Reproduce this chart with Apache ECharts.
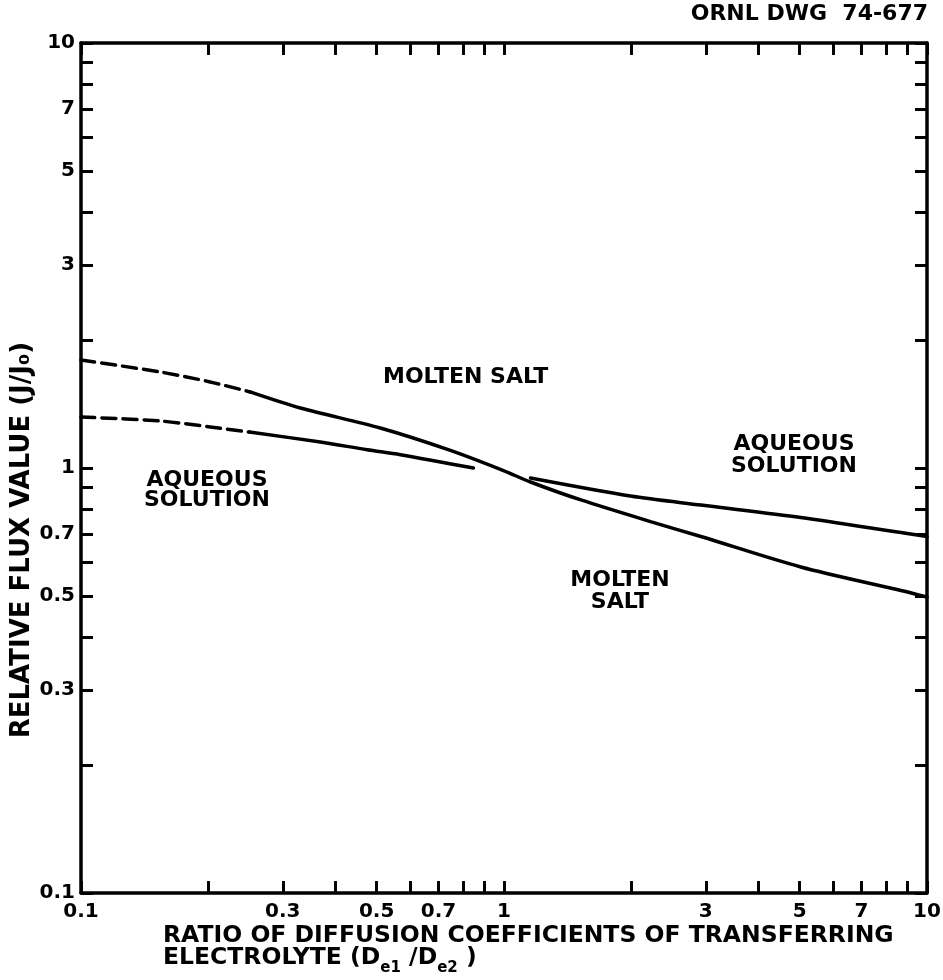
<!DOCTYPE html>
<html>
<head>
<meta charset="utf-8">
<title>ORNL DWG 74-677</title>
<script src="https://cdn.jsdelivr.net/npm/echarts@6/dist/echarts.min.js"></script>
<style>
  html, body { margin: 0; padding: 0; background: #fff; }
  #chart { width: 943px; height: 980px; }
</style>
</head>
<body>
<div id="chart"></div>
<script>
// values (ratio De1/De2 -> J/J0)
const moltenDashX = [0.1, 0.154, 0.202, 0.251];
const moltenDashY = [1.795, 1.682, 1.594, 1.51];
const moltenX = [0.251, 0.33, 0.51, 0.747, 1.0, 1.155, 1.52, 2.22, 2.92, 5.03, 8.68, 10];
const moltenY = [1.51, 1.384, 1.242, 1.10, 0.985, 0.927, 0.841, 0.748, 0.69, 0.585, 0.515, 0.497];
const aqLeftDashX = [0.1, 0.154, 0.202, 0.25];
const aqLeftDashY = [1.318, 1.29, 1.249, 1.215];
const aqLeftX = [0.25, 0.368, 0.475, 0.569, 0.847];
const aqLeftY = [1.215, 1.151, 1.104, 1.075, 1.0];
const aqRightX = [1.155, 1.99, 2.92, 5.03, 8.68, 10];
const aqRightY = [0.947, 0.859, 0.818, 0.765, 0.705, 0.69];

const tickValues = [0.1, 0.2, 0.3, 0.4, 0.5, 0.6, 0.7, 0.8, 0.9, 1, 2, 3, 4, 5, 6, 7, 8, 9, 10];
const xTickLabels = [0.1, 0.3, 0.5, 0.7, 1, 3, 5, 7, 10];
const yTickLabels = [0.1, 0.3, 0.5, 0.7, 1, 3, 5, 7, 10];

const FONT = 'DejaVu Sans';
const lg = v => Math.log10(v);
const pairs = (xs, ys) => xs.map((x, i) => [lg(x), lg(ys[i])]);
const fmt = v => {
  const n = Math.pow(10, v);
  return n < 0.95 ? n.toFixed(1) : String(Math.round(n));
};

function makeAxis(position, showLabel, labels, margin) {
  return {
    type: 'value',
    position: position,
    min: -1,
    max: 1,
    splitLine: { show: false },
    axisLine: { show: true, onZero: false, lineStyle: { color: '#000', width: 3.5 } },
    axisTick: {
      show: true,
      inside: true,
      length: 12,
      customValues: tickValues.map(lg),
      lineStyle: { color: '#000', width: 3 }
    },
    axisLabel: {
      show: showLabel,
      customValues: labels.map(lg),
      formatter: fmt,
      margin: margin,
      color: '#000',
      fontFamily: FONT,
      fontWeight: 'bold',
      fontSize: 20
    }
  };
}

function lineSeries(data, dashed) {
  return {
    type: 'line',
    data: data,
    smooth: 0.3,
    showSymbol: false,
    silent: true,
    lineStyle: { color: '#000', width: 3.5, type: dashed ? [14, 7] : 'solid', cap: 'round' }
  };
}

function txt(x, y, text, size, opts) {
  return {
    type: 'text', x: x, y: y,
    style: Object.assign({
      text: text,
      font: 'bold ' + size + 'px "' + FONT + '"',
      fill: '#000',
      align: 'left',
      verticalAlign: 'middle'
    }, opts || {})
  };
}

// second line of the x title, with subscripts placed after measuring the text
const measure = document.createElement('canvas').getContext('2d');
function widthOf(text, size) {
  measure.font = 'bold ' + size + 'px "' + FONT + '"';
  return measure.measureText(text).width;
}
const titleSize = 23.5;
const subSize = 15;
const line2Parts = [['ELECTROLYTE (D', false], ['e1', true], [' /D', false], ['e2', true], [' )', false]];
const line2 = [];
let cx = 163;
line2Parts.forEach(p => {
  const size = p[1] ? subSize : titleSize;
  line2.push(txt(cx, p[1] ? 968 : 958, p[0], size));
  cx += widthOf(p[0], size);
});

const chart = echarts.init(document.getElementById('chart'));
chart.setOption({
  animation: false,
  backgroundColor: '#fff',
  grid: { left: 81, right: 16, top: 43, bottom: 87, outerBoundsMode: 'none' },
  xAxis: [
    makeAxis('bottom', true, xTickLabels, 9),
    makeAxis('top', false, xTickLabels, 8)
  ],
  yAxis: [
    makeAxis('left', true, yTickLabels, 6),
    makeAxis('right', false, yTickLabels, 6)
  ],
  series: [
    lineSeries(pairs(moltenDashX, moltenDashY), true),
    lineSeries(pairs(moltenX, moltenY), false),
    lineSeries(pairs(aqLeftDashX, aqLeftDashY), true),
    lineSeries(pairs(aqLeftX, aqLeftY), false),
    lineSeries(pairs(aqRightX, aqRightY), false)
  ],
  graphic: [
    txt(928, 14, 'ORNL DWG  74-677', 22, { align: 'right' }),
    txt(383, 377, 'MOLTEN SALT', 22),
    txt(207, 490, 'AQUEOUS\nSOLUTION', 22, { lineHeight: 20, align: 'center' }),
    txt(794, 455, 'AQUEOUS\nSOLUTION', 22, { lineHeight: 22, align: 'center' }),
    txt(620, 591, 'MOLTEN\nSALT', 22, { lineHeight: 22, align: 'center' }),
    txt(163, 936, 'RATIO OF DIFFUSION COEFFICIENTS OF TRANSFERRING', titleSize),
    ...line2,
    {
      type: 'text', x: 22, y: 540, rotation: Math.PI / 2,
      style: { text: 'RELATIVE FLUX VALUE (J/J\u2080)', font: 'bold 26px "' + FONT + '"', fill: '#000', align: 'center', verticalAlign: 'middle' }
    }
  ]
});
</script>
</body>
</html>
